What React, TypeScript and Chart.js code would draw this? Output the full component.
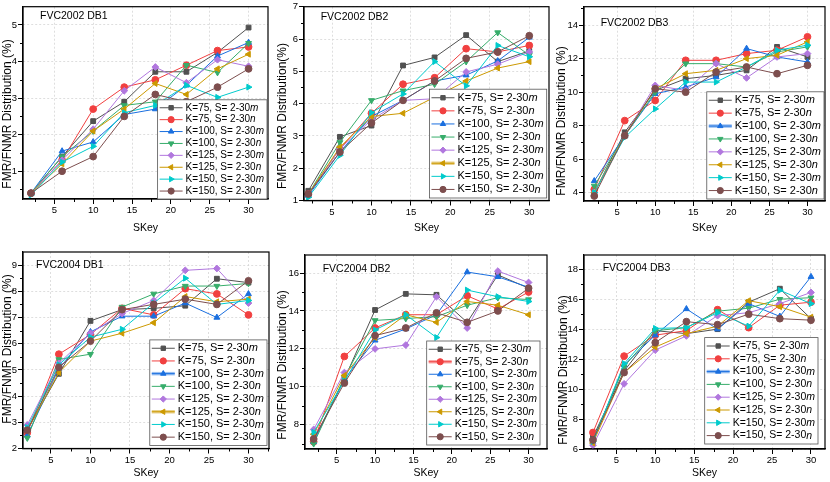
import React, { useEffect, useRef } from "react";
import { Chart, registerables } from "chart.js";
import { drawPoint } from "chart.js/helpers";

Chart.register(...registerables);

const FONT = '"Liberation Sans", Arial, Helvetica, sans-serif';
Chart.defaults.font.family = FONT;
Chart.defaults.color = "#000";

const skey = [2, 6, 10, 14, 18, 22, 26, 30];
const kLabels = [75, 75, 100, 100, 125, 125, 150, 150];
const sLabels = ["m", "n", "m", "n", "m", "n", "m", "n"];

// one row per series, same order as kLabels / sLabels
const fvc2002db1 = [
  [0.4, 1.4, 2.37, 2.9, 3.72, 3.72, 4.25, 4.93],
  [0.4, 1.3, 2.7, 3.3, 3.5, 3.9, 4.3, 4.4],
  [0.4, 1.55, 1.8, 2.55, 2.7, 3.35, 4.15, 4.52],
  [0.4, 1.4, 2.1, 2.8, 2.9, 3.9, 3.7, 4.5],
  [0.4, 1.3, 2.15, 3.2, 3.85, 3.42, 4.05, 3.87],
  [0.4, 1.2, 2.1, 2.7, 3.4, 3.1, 3.8, 4.2],
  [0.35, 1.25, 1.68, 2.6, 2.8, 3.35, 3.02, 3.3],
  [0.4, 1.0, 1.4, 2.5, 3.1, 2.9, 3.3, 3.8],
];

const fvc2002db2 = [
  [1.3, 2.97, 3.32, 5.18, 5.43, 6.12, 5.3, 5.63],
  [1.2, 2.6, 3.7, 4.6, 4.8, 5.7, 5.6, 5.8],
  [1.15, 2.5, 3.6, 4.1, 4.7, 4.88, 5.32, 6.05],
  [1.2, 2.8, 4.1, 4.4, 4.6, 5.3, 6.2, 5.5],
  [1.2, 2.6, 3.5, 4.1, 4.15, 4.98, 5.22, 5.6],
  [1.2, 2.65, 3.6, 3.7, 4.2, 4.7, 5.1, 5.3],
  [1.1, 2.4, 3.72, 4.3, 5.3, 4.55, 5.8, 5.45],
  [1.2, 2.5, 3.4, 4.1, 4.7, 5.4, 5.6, 6.1],
];

const fvc2002db3 = [
  [4.0, 7.6, 10.1, 10.8, 11.0, 11.3, 12.7, 12.1],
  [4.2, 8.3, 9.5, 11.9, 11.9, 12.3, 12.5, 13.3],
  [4.7, 7.4, 9.9, 10.3, 10.9, 12.6, 12.1, 11.8],
  [4.4, 7.4, 10.0, 11.7, 11.7, 11.5, 12.4, 12.7],
  [4.0, 7.4, 10.4, 10.1, 11.7, 10.85, 12.1, 12.3],
  [4.0, 7.4, 10.2, 11.1, 11.3, 12.0, 12.2, 13.0],
  [4.0, 7.3, 9.0, 10.6, 10.6, 11.5, 12.5, 12.8],
  [3.8, 7.4, 10.2, 10.0, 11.2, 11.5, 11.1, 11.6],
];

const fvc2004db1 = [
  [2.7, 4.85, 6.87, 7.3, 7.35, 7.45, 8.48, 8.33],
  [2.6, 5.6, 6.35, 7.35, 7.1, 8.1, 7.9, 7.1],
  [2.5, 5.05, 6.45, 7.05, 7.05, 7.55, 7.0, 7.9],
  [2.4, 5.4, 5.6, 7.4, 7.9, 8.2, 8.2, 8.3],
  [2.9, 5.25, 6.4, 7.15, 7.65, 8.8, 8.87, 7.55],
  [2.7, 4.9, 6.1, 6.4, 6.8, 7.8, 7.6, 7.7],
  [2.8, 5.2, 6.25, 6.55, 7.55, 8.5, 7.5, 7.65],
  [2.7, 5.1, 6.1, 7.3, 7.5, 7.7, 7.5, 8.4],
];

const fvc2004db2 = [
  [7.2, 10.4, 14.05, 14.9, 14.85, 13.4, 15.9, 15.2],
  [7.1, 11.6, 13.1, 13.8, 13.8, 14.8, 14.1, 15.0],
  [7.1, 10.4, 12.45, 13.05, 13.8, 16.05, 15.8, 15.25],
  [7.0, 10.5, 13.5, 13.6, 13.7, 14.3, 14.7, 14.6],
  [7.75, 10.75, 12.0, 12.2, 14.75, 13.1, 16.1, 15.5],
  [7.5, 10.6, 12.6, 13.8, 13.4, 14.5, 14.3, 13.8],
  [7.6, 10.3, 13.0, 13.8, 12.6, 15.1, 14.75, 14.5],
  [7.25, 10.2, 12.7, 13.1, 13.9, 13.4, 14.0, 15.2],
];

const fvc2004db3 = [
  [6.8, 11.2, 13.9, 13.7, 14.0, 15.8, 16.7, 14.7],
  [7.1, 12.2, 13.6, 13.9, 15.3, 14.1, 15.6, 15.8],
  [6.5, 11.6, 13.6, 15.35, 14.0, 15.7, 14.85, 17.5],
  [6.6, 11.5, 13.9, 14.1, 15.2, 15.4, 16.0, 16.1],
  [6.25, 10.35, 12.6, 13.55, 14.9, 15.1, 15.7, 16.45],
  [6.4, 11.1, 12.8, 13.7, 14.2, 15.9, 15.5, 14.8],
  [6.5, 11.7, 14.05, 14.1, 15.1, 14.2, 16.6, 15.7],
  [6.6, 11.1, 13.1, 14.5, 14.3, 15.0, 14.7, 14.6],
];

const colors = ["#515151", "#F14040", "#1A6FDF", "#37AD6B", "#B177DE", "#CC9900", "#00CBCC", "#7D4E4E"];
const markers = [
  { style: "rect", rot: 0 },
  { style: "circle", rot: 0 },
  { style: "triangle", rot: 0 },
  { style: "triangle", rot: 180 },
  { style: "rectRot", rot: 0 },
  { style: "triangle", rot: -90 },
  { style: "triangle", rot: 90 },
  { style: "circle", rot: 0 },
];

type PanelCfg = {
  title: string;
  yTitle: string;
  data: number[][];
  xMin: number;
  xMax: number;
  yMin: number;
  yMax: number;
  yStep: number;
  left: number;
  top: number;
  w: number;
  h: number;
  yW: number;
  xH: number;
  padTop: number;
  padRight: number;
  xTitlePad: number;
  titlePos: number[];
  yTitlePos: number[];
  legendFont: number;
  rowH: number;
  legendInset: number[];
  legendThick: number[];
};

const Y_TITLE = "FMR/FNMR Distribution (%)";

const panels: PanelCfg[] = [
  {
    title: "FVC2002 DB1", yTitle: Y_TITLE, data: fvc2002db1,
    xMin: 0.97, xMax: 32.5, yMin: 0.24, yMax: 5.5, yStep: 1,
    left: 0, top: 0, w: 278, h: 240, yW: 23, xH: 41, padTop: 3, padRight: 10, xTitlePad: 6,
    titlePos: [40, 16], yTitlePos: [7.5, 114], legendFont: 10, rowH: 11.9, legendInset: [1, 0], legendThick: [],
  },
  {
    title: "FVC2002 DB2", yTitle: "FMR/FNMR Distribution(%)", data: fvc2002db2,
    xMin: 1.45, xMax: 32.5, yMin: 1, yMax: 7, yStep: 1,
    left: 275, top: 0, w: 283, h: 240, yW: 29, xH: 39.5, padTop: 3, padRight: 9, xTitlePad: 6,
    titlePos: [45.7, 17], yTitlePos: [8, 116], legendFont: 11, rowH: 13.1, legendInset: [2.3, 2.5], legendThick: [5],
  },
  {
    title: "FVC2002 DB3", yTitle: Y_TITLE, data: fvc2002db3,
    xMin: 0.65, xMax: 32.3, yMin: 3.5, yMax: 15.1, yStep: 2,
    left: 556, top: 0, w: 274, h: 240, yW: 28, xH: 39, padTop: 3, padRight: 4, xTitlePad: 6,
    titlePos: [44.7, 23], yTitlePos: [5.7, 121], legendFont: 11, rowH: 12.9, legendInset: [1, 2], legendThick: [2],
  },
  {
    title: "FVC2004 DB1", yTitle: Y_TITLE, data: fvc2004db1,
    xMin: 1.46, xMax: 32.6, yMin: 2, yMax: 9.5, yStep: 1,
    left: 0, top: 242, w: 278, h: 240, yW: 23, xH: 33.5, padTop: 10, padRight: 9, xTitlePad: 3,
    titlePos: [36, 23], yTitlePos: [7.3, 107], legendFont: 11, rowH: 12.7, legendInset: [2, 3], legendThick: [2, 5],
  },
  {
    title: "FVC2004 DB2", yTitle: Y_TITLE, data: fvc2004db2,
    xMin: 0.87, xMax: 32.4, yMin: 6.72, yMax: 16.95, yStep: 2,
    left: 277, top: 242, w: 279, h: 240, yW: 28, xH: 33, padTop: 13, padRight: 9, xTitlePad: 3,
    titlePos: [45.7, 27], yTitlePos: [5.5, 123], legendFont: 10.5, rowH: 12.5, legendInset: [7, 4], legendThick: [1],
  },
  {
    title: "FVC2004 DB3", yTitle: Y_TITLE, data: fvc2004db3,
    xMin: 0.85, xMax: 31.8, yMin: 6, yMax: 18.95, yStep: 2,
    left: 556, top: 242, w: 274, h: 240, yW: 28, xH: 33, padTop: 13, padRight: 4, xTitlePad: 3,
    titlePos: [46.7, 26], yTitlePos: [7.3, 128], legendFont: 10.5, rowH: 12.8, legendInset: [7, 5], legendThick: [2],
  },
];

// frame, minor ticks, in-plot title, y title and the boxed legend
const decorPlugin = {
  id: "panelDecor",
  afterDraw(chart: any, _args: any, opts: any) {
    const { ctx, chartArea: a, scales } = chart;
    const xs = scales.x;
    const ys = scales.y;
    ctx.save();

    ctx.strokeStyle = "#000";
    ctx.lineWidth = 1.2;
    ctx.strokeRect(a.left, a.top, a.right - a.left, a.bottom - a.top);

    // minor ticks
    ctx.lineWidth = 1;
    ctx.beginPath();
    for (let v = 2.5; v < xs.max; v += 5) {
      if (v < xs.min) continue;
      const px = Math.round(xs.getPixelForValue(v)) + 0.5;
      ctx.moveTo(px, a.bottom);
      ctx.lineTo(px, a.bottom + 3);
    }
    const half = opts.yStep / 2;
    for (let v = Math.ceil(ys.min / half) * half; v < ys.max; v += half) {
      if (Math.abs(v / opts.yStep - Math.round(v / opts.yStep)) < 1e-6) continue;
      const py = Math.round(ys.getPixelForValue(v)) + 0.5;
      ctx.moveTo(a.left - 3, py);
      ctx.lineTo(a.left, py);
    }
    ctx.stroke();

    // panel title
    ctx.fillStyle = "#000";
    ctx.font = `10.5px ${FONT}`;
    ctx.textAlign = "left";
    ctx.textBaseline = "middle";
    ctx.fillText(opts.title, opts.titlePos[0], opts.titlePos[1]);

    // y title
    ctx.save();
    ctx.translate(opts.yTitlePos[0], opts.yTitlePos[1]);
    ctx.rotate(-Math.PI / 2);
    ctx.font = `12px ${FONT}`;
    ctx.textAlign = "center";
    ctx.fillText(opts.yTitle, 0, 0);
    ctx.restore();

    // legend
    const fs = opts.legendFont;
    const normal = `${fs}px ${FONT}`;
    const italic = `italic ${fs}px ${FONT}`;
    const ds = chart.data.datasets;
    let maxW = 0;
    ds.forEach((d: any) => {
      ctx.font = normal;
      const w1 = ctx.measureText(d.baseLabel).width;
      ctx.font = italic;
      const w2 = ctx.measureText(d.suffix).width;
      maxW = Math.max(maxW, w1 + w2);
    });
    const rowH = opts.rowH;
    const bw = maxW + 31;
    const bh = rowH * ds.length + 4;
    const bx = a.right - opts.legendInset[0] - bw;
    const by = a.bottom - opts.legendInset[1] - bh;
    ctx.fillStyle = "#fff";
    ctx.fillRect(bx, by, bw, bh);
    ctx.strokeStyle = "#555";
    ctx.lineWidth = 0.8;
    ctx.strokeRect(bx, by, bw, bh);

    const thick: number[] = opts.legendThick || [];
    ds.forEach((d: any, i: number) => {
      const cy = by + 2 + rowH * (i + 0.5);
      if (thick.includes(i)) {
        ctx.save();
        ctx.globalAlpha = 0.45;
        ctx.strokeStyle = d.borderColor;
        ctx.lineWidth = 3.5;
        ctx.beginPath();
        ctx.moveTo(bx + 2, cy);
        ctx.lineTo(bx + 25, cy);
        ctx.stroke();
        ctx.restore();
      }
      ctx.strokeStyle = d.borderColor;
      ctx.fillStyle = d.borderColor;
      ctx.lineWidth = 1;
      ctx.beginPath();
      ctx.moveTo(bx + 2, cy);
      ctx.lineTo(bx + 25, cy);
      ctx.stroke();
      drawPoint(ctx, { pointStyle: d.pointStyle, rotation: d.pointRotation, radius: 3.1, borderWidth: 1 }, bx + 13.5, cy);
      ctx.fillStyle = "#000";
      ctx.textAlign = "left";
      ctx.textBaseline = "middle";
      ctx.font = normal;
      ctx.fillText(d.baseLabel, bx + 28, cy);
      const w1 = ctx.measureText(d.baseLabel).width;
      ctx.font = italic;
      ctx.fillText(d.suffix, bx + 28 + w1, cy);
    });

    ctx.restore();
  },
};

function Panel({ p }: { p: PanelCfg }) {
  const ref = useRef<HTMLCanvasElement>(null);

  useEffect(() => {
    if (!ref.current) return;
    const chart = new Chart(ref.current, {
      type: "line",
      data: {
        datasets: p.data.map((vals, i) => ({
          label: `K=${kLabels[i]}, S= 2-30${sLabels[i]}`,
          baseLabel: `K=${kLabels[i]}, S= 2-30`,
          suffix: sLabels[i],
          data: skey.map((x, j) => ({ x, y: vals[j] })),
          borderColor: colors[i],
          backgroundColor: colors[i],
          borderWidth: 1,
          pointStyle: markers[i].style,
          pointRotation: markers[i].rot,
          pointRadius: 3.4,
          pointBorderWidth: 1,
          pointBackgroundColor: colors[i],
          pointBorderColor: colors[i],
          tension: 0,
          order: 7 - i,
        })) as any,
      },
      options: {
        responsive: true,
        maintainAspectRatio: false,
        animation: false,
        layout: { padding: { left: 0, right: p.padRight, top: p.padTop, bottom: 0 } },
        plugins: {
          legend: { display: false },
          tooltip: { enabled: false },
          panelDecor: {
            title: p.title,
            yTitle: p.yTitle,
            titlePos: p.titlePos,
            yTitlePos: p.yTitlePos,
            yStep: p.yStep,
            legendFont: p.legendFont,
            rowH: p.rowH,
            legendInset: p.legendInset,
            legendThick: p.legendThick,
          },
        } as any,
        scales: {
          x: {
            type: "linear",
            min: p.xMin,
            max: p.xMax,
            afterFit: (s: any) => {
              s.height = p.xH;
            },
            ticks: {
              stepSize: 5,
              includeBounds: false,
              autoSkip: false,
              maxRotation: 0,
              padding: 1,
              color: "#000",
              font: { size: 9.5 },
            },
            grid: { color: "#d6d6d6", tickColor: "#000", tickLength: 5, tickWidth: 1, lineWidth: 0.8 },
            border: { color: "#000", width: 1.2, dash: [2, 2] },
            title: {
              display: true,
              text: "SKey",
              color: "#000",
              font: { size: 10.5 },
              padding: { top: 0, bottom: p.xTitlePad },
            },
          },
          y: {
            type: "linear",
            min: p.yMin,
            max: p.yMax,
            afterFit: (s: any) => {
              s.width = p.yW;
            },
            ticks: {
              stepSize: p.yStep,
              includeBounds: false,
              autoSkip: false,
              padding: 1,
              color: "#000",
              font: { size: 9.5 },
            },
            grid: { color: "#d6d6d6", tickColor: "#000", tickLength: 5, tickWidth: 1, lineWidth: 0.8 },
            border: { color: "#000", width: 1.2, dash: [2, 2] },
          },
        },
      },
      plugins: [decorPlugin],
    });
    return () => {
      chart.destroy();
    };
  }, [p]);

  return (
    <div style={{ position: "absolute", left: p.left, top: p.top, width: p.w, height: p.h }}>
      <canvas ref={ref} />
    </div>
  );
}

export default function App() {
  useEffect(() => {
    document.body.style.margin = "0";
    document.body.style.background = "#fff";
  }, []);

  return (
    <div style={{ position: "relative", width: 830, height: 482, background: "#fff" }}>
      {panels.map((p) => (
        <Panel key={p.title} p={p} />
      ))}
    </div>
  );
}
